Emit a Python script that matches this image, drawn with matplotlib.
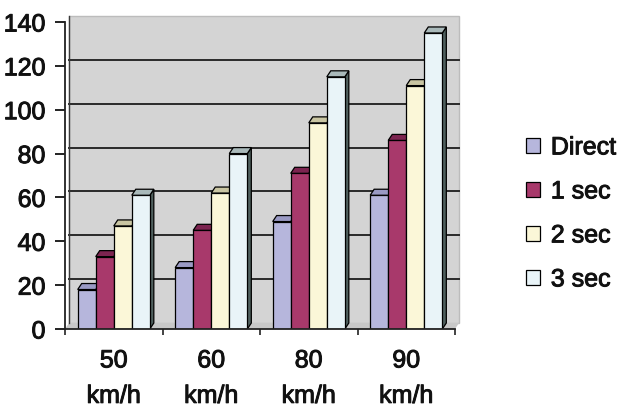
import matplotlib
matplotlib.use("Agg")
import matplotlib.pyplot as plt
import matplotlib.patheffects as pe
import numpy as np
from matplotlib.patches import Polygon, Rectangle

plt.rcParams['font.family'] = ['Liberation Sans', 'DejaVu Sans']

# data
categories = ['50\nkm/h', '60\nkm/h', '80\nkm/h', '90\nkm/h']
series = ['Direct', '1 sec', '2 sec', '3 sec']
direct = [18, 28, 49, 61]
sec1 = [33, 45, 71, 86]
sec2 = [47, 62, 94, 111]
sec3 = [61, 80, 115, 135]
values = [direct, sec1, sec2, sec3]

front = ['#b6b6dc', '#a8396b', '#fbf7d8', '#e9f4f8']
caps = ['#9a9ac4', '#7c2450', '#c9c5a2', '#a9b9ba']
sides = ['#6f6f98', '#5e1a3c', '#8e8b70', '#4f605e']
wall = '#d4d4d4'
FS = 18
heavy = [pe.withStroke(linewidth=0.7, foreground='#111111')]

fig = plt.figure(figsize=(6.26, 4.08), dpi=100)
ax_l, ax_b, ax_w, ax_h = 65, 79, 390, 307  # px
ax = fig.add_axes([ax_l / 626, ax_b / 408, ax_w / 626, ax_h / 408])
ax.set_xlim(-0.5, 3.5)
ax.set_ylim(0, 140)
ax.patch.set_visible(False)

# 3d depth, pixels -> data
DX, DY = 4, 6
dxd = DX * 4.0 / ax_w
dyd = DY * 140.0 / ax_h

# back wall + floor
ax.add_patch(Rectangle((-0.5 + dxd, dyd), 4, 140, facecolor=wall,
                       edgecolor='#bcbcbc', lw=1, clip_on=False, zorder=0))
ax.add_patch(Polygon([(-0.5, 0), (3.5, 0), (3.5 + dxd, dyd), (-0.5 + dxd, dyd)],
                     closed=True, facecolor='#c8c8c8', edgecolor='none',
                     clip_on=False, zorder=0.5))
for t in range(20, 140, 20):
    ax.plot([-0.5 + dxd, 3.5 + dxd], [t + dyd, t + dyd], color='#2a2a2a',
            lw=1.4, clip_on=False, zorder=1)
ax.plot([-0.5 + dxd, -0.5 + dxd], [dyd, 140 + dyd], color='#3a3a3a', lw=1,
        clip_on=False, zorder=1)

# bars
w = 0.185
x = np.arange(len(categories))
for i, vals in enumerate(values):
    for j, v in enumerate(vals):
        x0 = x[j] + (i - 1.5) * w - w / 2
        z = 2 + i * 3
        ax.bar(x0, v, w, align='edge', color=front[i], edgecolor='black',
               lw=0.9, zorder=z + 1)
        ax.add_patch(Polygon([(x0 + w, 0), (x0 + w + dxd, dyd),
                              (x0 + w + dxd, v + dyd), (x0 + w, v)],
                             closed=True, facecolor=sides[i], edgecolor='black',
                             lw=0.9, zorder=z))
        ax.add_patch(Polygon([(x0, v), (x0 + w, v), (x0 + w + dxd, v + dyd),
                              (x0 + dxd, v + dyd)],
                             closed=True, facecolor=caps[i], edgecolor='black',
                             lw=0.9, zorder=z + 2))

# axes
for s in ['top', 'right']:
    ax.spines[s].set_visible(False)
for s in ['left', 'bottom']:
    ax.spines[s].set_color('#222222')
    ax.spines[s].set_linewidth(1.3)
    ax.spines[s].set_zorder(30)

ax.set_yticks(range(0, 141, 20))
ax.tick_params(axis='y', direction='out', length=7, width=1.3, pad=7,
               labelsize=FS, colors='#111111')
ax.set_xticks(x)
ax.set_xticklabels(categories, linespacing=1.6)
ax.set_xticks(np.arange(-0.5, 3.6, 1), minor=True)
ax.tick_params(axis='x', which='major', length=0, pad=14, labelsize=FS,
               colors='#111111')
ax.tick_params(axis='x', which='minor', direction='out', length=4, width=1.2,
               colors='#222222')
for lab in ax.get_xticklabels() + ax.get_yticklabels():
    lab.set_path_effects(heavy)

handles = [Rectangle((0, 0), 1, 1, facecolor=front[i], edgecolor='black', lw=0.9)
           for i in range(len(series))]
leg = fig.legend(handles, series, loc='center left', bbox_to_anchor=(0.82, 0.477),
                 frameon=False, fontsize=FS, handlelength=0.55, handleheight=0.55,
                 handletextpad=0.45, labelspacing=0.8, borderpad=0)
for t in leg.get_texts():
    t.set_color('#111111')
    t.set_path_effects(heavy)

fig.savefig('out.png', dpi=100)
